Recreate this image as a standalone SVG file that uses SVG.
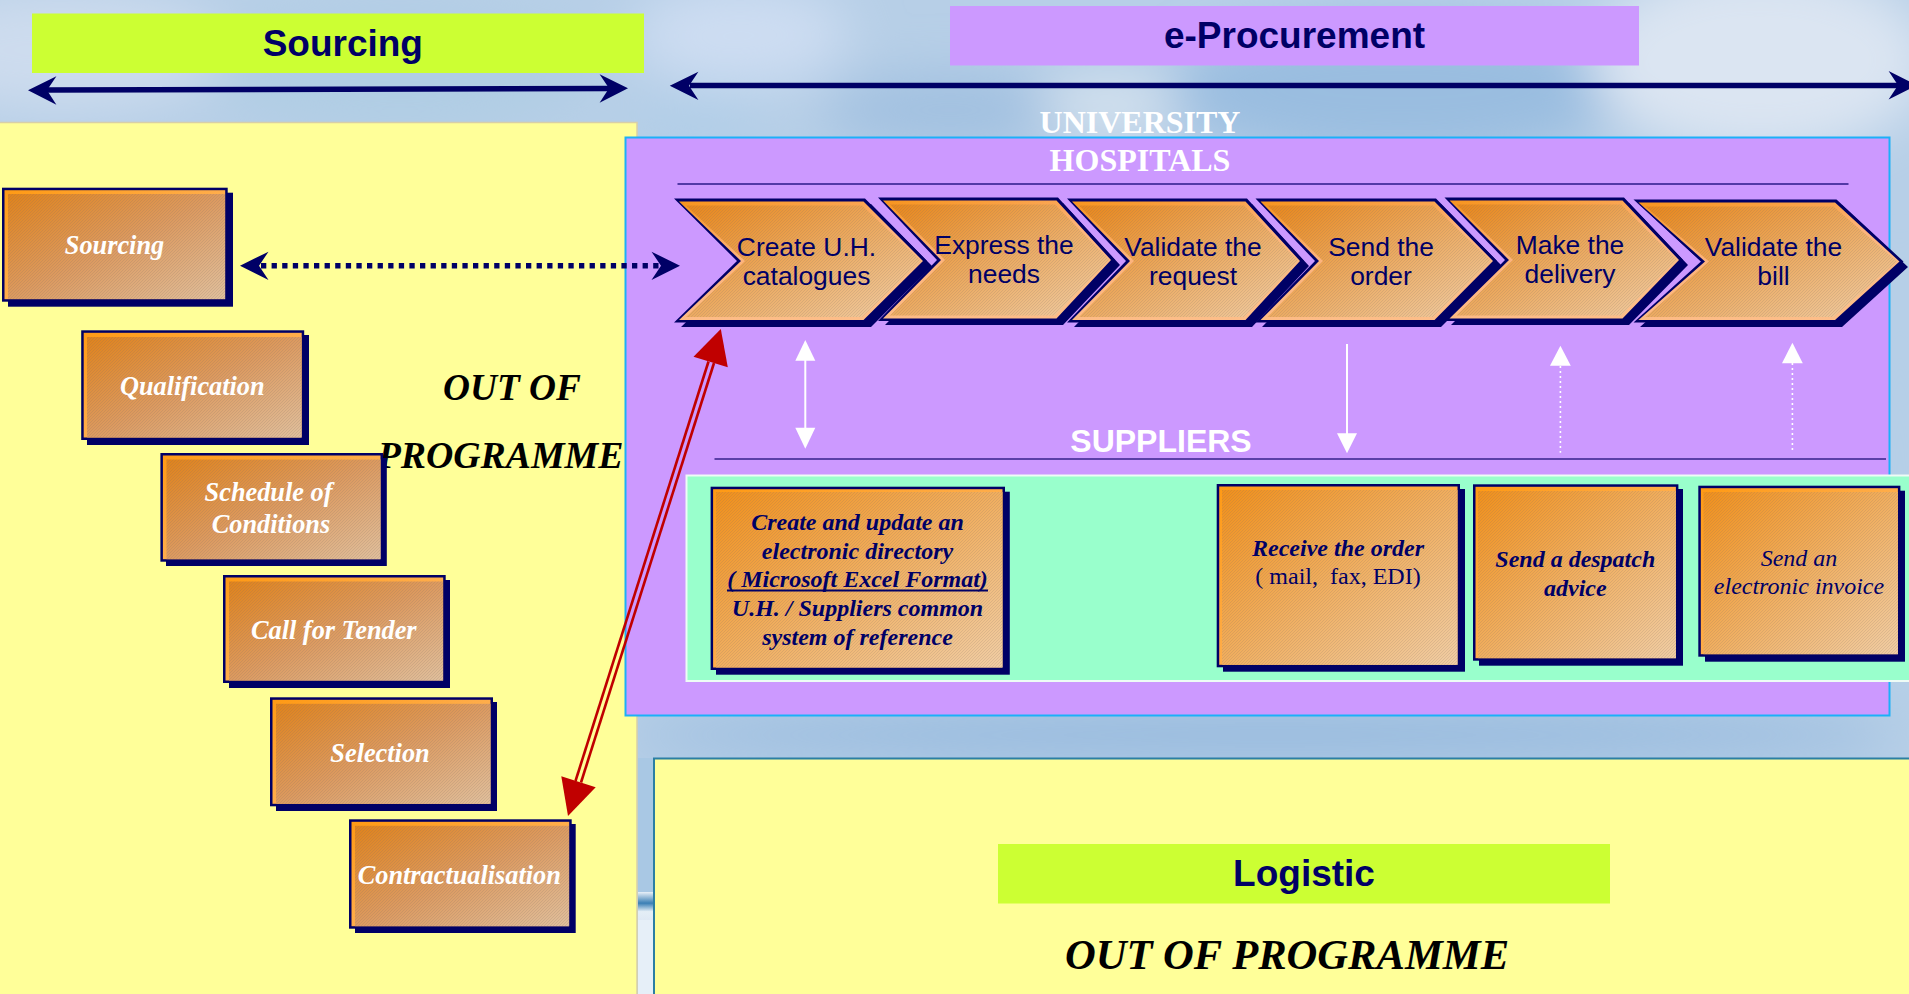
<svg xmlns="http://www.w3.org/2000/svg" width="1909" height="994" viewBox="0 0 1909 994">
<style>
.sans{font-family:"Liberation Sans",Arial,sans-serif}
.serif{font-family:"Liberation Serif","Times New Roman",serif}
text{text-anchor:middle}
.band{font-weight:700;font-size:37px;fill:#000066}
.chev{font-size:26.400px;fill:#000066}
.lnode{font-size:26.300px;font-weight:700;font-style:italic;fill:#fff}
.snode{font-size:24px;font-weight:700;font-style:italic;fill:#000066}
.oop{font-weight:700;font-style:italic;fill:#000}
.head{font-weight:700;fill:#fff}
.sh{fill:#000066}
.fr{fill:#000066}
.hat{fill:url(#hatch)}
.bevel{fill:url(#bev)}
.inL{fill:url(#gL)}
.inS{fill:url(#gS)}
.shaft{fill:none;stroke:#000066;stroke-width:5.500}
.wl{fill:none;stroke:#fff;stroke-width:2}
.wd{fill:none;stroke:#fff;stroke-width:1.600;stroke-dasharray:2 3}
.wh{fill:#fff}
.nh{fill:#000066}
.red{fill:none;stroke:#c00000;stroke-width:2.600}
.rh{fill:#c00000}
</style>
<defs>
<linearGradient id="bev" x1="0" y1="0" x2="1" y2="1"><stop offset="0" stop-color="#ff9a14"/><stop offset="1" stop-color="#ffc080"/></linearGradient>
<linearGradient id="gL" x1="0" y1="0" x2="1" y2="1"><stop offset="0" stop-color="#e0831c"/><stop offset=".5" stop-color="#dc9a60"/><stop offset="1" stop-color="#e0bf9c"/></linearGradient>
<linearGradient id="gS" x1="0" y1="0" x2="1" y2="1"><stop offset="0" stop-color="#f0901c"/><stop offset="1" stop-color="#f0cda4"/></linearGradient>
<linearGradient id="gC" x1="0" y1="0" x2="1" y2="1"><stop offset="0" stop-color="#e8871c"/><stop offset="1" stop-color="#efcda6"/></linearGradient>
<linearGradient id="bevC" x1="0" y1="0" x2="0.4" y2="1"><stop offset="0" stop-color="#f7941d"/><stop offset="0.5" stop-color="#fdb37c"/><stop offset="1" stop-color="#fdbd88"/></linearGradient>
<pattern id="hatch" width="3" height="3" patternUnits="userSpaceOnUse"><path d="M0 3L3 0M-1 1L1 -1M2 4L4 2" stroke="#7a6a60" stroke-opacity=".2" stroke-width=".9"/></pattern>
<filter id="blur" x="-50%" y="-50%" width="200%" height="200%"><feGaussianBlur stdDeviation="26"/></filter>
<linearGradient id="bar" x1="0" y1="0" x2="0" y2="1"><stop offset="0" stop-color="#e8f0f8"/><stop offset=".4" stop-color="#3b7fb5"/><stop offset=".7" stop-color="#e4eef6"/><stop offset="1" stop-color="#dfe9f4"/></linearGradient>
</defs>

<g id="background">
<rect width="1909" height="994" fill="#b7cfe7"/>
<g filter="url(#blur)">
<ellipse cx="60" cy="50" rx="170" ry="60" fill="#cddcee"/>
<ellipse cx="400" cy="70" rx="190" ry="60" fill="#b0cde4"/>
<ellipse cx="740" cy="35" rx="110" ry="50" fill="#cdddf2"/>
<ellipse cx="700" cy="120" rx="70" ry="25" fill="#b0cee8"/>
<ellipse cx="950" cy="110" rx="130" ry="35" fill="#a0c0e0"/>
<ellipse cx="1110" cy="105" rx="70" ry="22" fill="#dbe6f0"/>
<ellipse cx="1400" cy="90" rx="230" ry="70" fill="#9abde0"/>
<ellipse cx="1760" cy="60" rx="170" ry="95" fill="#dbe5f2"/>
<ellipse cx="1270" cy="735" rx="650" ry="22" fill="#8fb5dc"/>
<ellipse cx="1900" cy="500" rx="30" ry="260" fill="#b5cfe7"/>
</g>
</g>

<g id="panels">
<rect id="panel-sourcing" x="-2" y="122.500" width="639" height="880" fill="#ffff99" stroke="#d8cfa8" stroke-width="1.500"/>
<rect x="638" y="758" width="15" height="236" fill="#a9c8e4"/>
<rect x="638" y="892" width="15" height="102" fill="#e6eff8"/>
<rect x="638" y="892" width="15" height="28" fill="url(#bar)"/>
<rect id="panel-logistic" x="654" y="758.500" width="1262" height="245" fill="#ffff99" stroke="#2b7fa3" stroke-width="2"/>
<rect id="panel-eproc" x="625.500" y="137.500" width="1264" height="578" fill="#cc99ff" stroke="#1cb0f8" stroke-width="2"/>
<rect id="panel-suppliers" x="686.500" y="475.500" width="1230" height="205.500" fill="#99ffcc" stroke="#eefcf6" stroke-width="2"/>
<rect id="band-sourcing" x="32" y="13.500" width="612" height="59.500" fill="#ccff33"/>
<rect id="band-eproc" x="950" y="6" width="689" height="59.500" fill="#cc99ff"/>
<rect id="band-logistic" x="998" y="844" width="612" height="59.500" fill="#ccff33"/>
<line x1="677.500" y1="184" x2="1848.500" y2="184" stroke="#2a1a88" stroke-width="1.500"/>
<line x1="714.500" y1="459" x2="1886" y2="459" stroke="#5b3fa8" stroke-width="1.800"/>
</g>

<g id="panel-labels">
<text class="sans band" x="342.800" y="55.500">Sourcing</text>
<text class="sans band" x="1294.500" y="48">e-Procurement</text>
<text class="sans band" x="1304" y="885.500">Logistic</text>
<text class="serif head" x="1140" y="132.500" font-size="32">UNIVERSITY</text>
<text class="serif head" x="1140" y="170.500" font-size="32">HOSPITALS</text>
<text class="sans head" x="1161" y="451.500" font-size="32">SUPPLIERS</text>
<text class="serif oop" x="512" y="399.500" font-size="37.300">OUT OF</text>
<text class="serif oop" x="500.500" y="468" font-size="37.800">PROGRAMME</text>
<text class="serif oop" x="1287" y="969" font-size="42.600">OUT OF PROGRAMME</text>
</g>

<g id="node-sourcing">
<rect class="sh" x="8" y="192.700" width="225" height="114"/><rect class="fr" x="2" y="187.700" width="225.700" height="114"/><rect class="bevel" x="4.500" y="190.200" width="220.700" height="109"/><rect class="inL" x="8" y="194" width="217" height="105"/><rect class="hat" x="8" y="194" width="217" height="105"/>
<text class="serif lnode" x="114.500" y="254">Sourcing</text>
</g>
<g id="node-qualification">
<rect class="sh" x="87" y="335" width="222" height="110"/><rect class="fr" x="81.200" y="330.300" width="223" height="109.700"/><rect class="bevel" x="83.700" y="332.800" width="218" height="104.700"/><rect class="inL" x="87" y="337" width="214.500" height="100.500"/><rect class="hat" x="87" y="337" width="214.500" height="100.500"/>
<text class="serif lnode" x="192.300" y="395">Qualification</text>
</g>
<g id="node-schedule">
<rect class="sh" x="166" y="458" width="220.800" height="108"/><rect class="fr" x="160.400" y="453" width="222.600" height="108.700"/><rect class="bevel" x="162.900" y="455.500" width="217.600" height="103.700"/><rect class="inL" x="166.500" y="459.500" width="214" height="99.700"/><rect class="hat" x="166.500" y="459.500" width="214" height="99.700"/>
<text class="serif lnode" x="268.500" y="501">Schedule of</text>
<text class="serif lnode" x="271" y="533">Conditions</text>
</g>
<g id="node-call">
<rect class="sh" x="229" y="580" width="221" height="108"/><rect class="fr" x="223" y="575" width="222.700" height="108"/><rect class="bevel" x="225.500" y="577.500" width="217.700" height="103"/><rect class="inL" x="229" y="581.500" width="214" height="99"/><rect class="hat" x="229" y="581.500" width="214" height="99"/>
<text class="serif lnode" x="333.800" y="638.800">Call for Tender</text>
</g>
<g id="node-selection">
<rect class="sh" x="276" y="702" width="221" height="109"/><rect class="fr" x="270" y="697.300" width="223" height="109"/><rect class="bevel" x="272.500" y="699.800" width="218" height="104"/><rect class="inL" x="276" y="703.800" width="214.500" height="100"/><rect class="hat" x="276" y="703.800" width="214.500" height="100"/>
<text class="serif lnode" x="380" y="761.700">Selection</text>
</g>
<g id="node-contract">
<rect class="sh" x="355" y="824" width="220.700" height="109"/><rect class="fr" x="349" y="819.300" width="222.700" height="109.400"/><rect class="bevel" x="351.500" y="821.800" width="217.700" height="104.400"/><rect class="inL" x="355" y="825.800" width="214" height="100.400"/><rect class="hat" x="355" y="825.800" width="214" height="100.400"/>
<text class="serif lnode" x="459.300" y="883.800">Contractualisation</text>
</g>

<g id="chevron-1">
<polygon class="sh" points="681,204 871,204 932,266 871,327 681,327 744,266"/>
<polygon class="fr" points="674,198.500 865,198.500 927,261 865,322.500 674,322.500 737,261"/>
<polygon fill="url(#bevC)" points="679,201.500 863.500,201.500 923,261 863.500,320 679,320 741,261"/>
<polygon fill="url(#gC)" points="686,205.500 862,205.500 921,261 862,317 686,317 745,261"/>
<polygon class="hat" points="686,205.500 862,205.500 921,261 862,317 686,317 745,261"/>
<text class="sans chev" x="806.500" y="256">Create U.H.</text><text class="sans chev" x="806.500" y="285">catalogues</text>
</g>
<g id="chevron-2">
<polygon class="sh" points="885,203 1063,203 1120,265 1063,325 885,325 944,265"/>
<polygon class="fr" points="878,197.500 1058,197.500 1115,260 1058,321 878,321 937,260"/>
<polygon fill="url(#bevC)" points="883,200.500 1056.500,200.500 1111,260 1056.500,318.500 883,318.500 941,260"/>
<polygon fill="url(#gC)" points="890,204.500 1055,204.500 1109,260 1055,315.500 890,315.500 945,260"/>
<polygon class="hat" points="890,204.500 1055,204.500 1109,260 1055,315.500 890,315.500 945,260"/>
<text class="sans chev" x="1004" y="254">Express the</text><text class="sans chev" x="1004" y="283">needs</text>
</g>
<g id="chevron-3">
<polygon class="sh" points="1074,204 1252,204 1309,266 1252,327 1074,327 1133,266"/>
<polygon class="fr" points="1067,198.500 1247,198.500 1304,261 1247,322.500 1067,322.500 1126,261"/>
<polygon fill="url(#bevC)" points="1072,201.500 1245.500,201.500 1300,261 1245.500,320 1072,320 1130,261"/>
<polygon fill="url(#gC)" points="1079,205.500 1244,205.500 1298,261 1244,317 1079,317 1134,261"/>
<polygon class="hat" points="1079,205.500 1244,205.500 1298,261 1244,317 1079,317 1134,261"/>
<text class="sans chev" x="1193" y="256">Validate the</text><text class="sans chev" x="1193" y="285">request</text>
</g>
<g id="chevron-4">
<polygon class="sh" points="1262,204 1441,204 1502,266 1441,327 1262,327 1322,266"/>
<polygon class="fr" points="1255.500,198.500 1436,198.500 1497,261 1436,322.500 1255.500,322.500 1315,261"/>
<polygon fill="url(#bevC)" points="1260.500,201.500 1434.500,201.500 1493,261 1434.500,320 1260.500,320 1319,261"/>
<polygon fill="url(#gC)" points="1267.500,205.500 1433,205.500 1491,261 1433,317 1267.500,317 1323,261"/>
<polygon class="hat" points="1267.500,205.500 1433,205.500 1491,261 1433,317 1267.500,317 1323,261"/>
<text class="sans chev" x="1381" y="256">Send the</text><text class="sans chev" x="1381" y="285">order</text>
</g>
<g id="chevron-5">
<polygon class="sh" points="1451,203 1629,203 1688,265 1629,325 1451,325 1511,265"/>
<polygon class="fr" points="1444.500,197.500 1624,197.500 1683,260 1624,321 1444.500,321 1505,260"/>
<polygon fill="url(#bevC)" points="1449.500,200.500 1622.500,200.500 1679,260 1622.500,318.500 1449.500,318.500 1509,260"/>
<polygon fill="url(#gC)" points="1456.500,204.500 1621,204.500 1677,260 1621,315.500 1456.500,315.500 1513,260"/>
<polygon class="hat" points="1456.500,204.500 1621,204.500 1677,260 1621,315.500 1456.500,315.500 1513,260"/>
<text class="sans chev" x="1570" y="254">Make the</text><text class="sans chev" x="1570" y="283">delivery</text>
</g>
<g id="chevron-6">
<polygon class="sh" points="1640,205 1842,205 1908,267 1842,327 1640,327 1707,267"/>
<polygon class="fr" points="1633.500,199.500 1836.500,199.500 1903.500,261.500 1836.500,322.500 1633.500,322.500 1701,261.500"/>
<polygon fill="url(#bevC)" points="1638.500,202.500 1835,202.500 1899.500,261.500 1835,320 1638.500,320 1705,261.500"/>
<polygon fill="url(#gC)" points="1645.500,206.500 1833.500,206.500 1897,261.500 1833.500,317 1645.500,317 1709,261.500"/>
<polygon class="hat" points="1645.500,206.500 1833.500,206.500 1897,261.500 1833.500,317 1645.500,317 1709,261.500"/>
<text class="sans chev" x="1773.500" y="256">Validate the</text><text class="sans chev" x="1773.500" y="285">bill</text>
</g>

<g id="node-directory">
<rect class="sh" x="716" y="491.700" width="293.800" height="183"/><rect class="fr" x="710.600" y="486.700" width="294.400" height="183.300"/><rect class="bevel" x="713.100" y="489.200" width="289.400" height="178.300"/><rect class="inS" x="716" y="492" width="286.500" height="175.500"/><rect class="hat" x="716" y="492" width="286.500" height="175.500"/>
<text class="serif snode" x="857.500" y="530">Create and update an</text>
<text class="serif snode" x="857.500" y="558.700">electronic directory</text>
<text class="serif snode" x="857.500" y="587.300">( Microsoft Excel Format)</text>
<rect class="sh" x="727" y="589.500" width="261" height="2"/>
<text class="serif snode" x="857.500" y="616">U.H. / Suppliers common</text>
<text class="serif snode" x="857.500" y="645">system of reference</text>
</g>
<g id="node-receive">
<rect class="sh" x="1223" y="489" width="242" height="182.700"/><rect class="fr" x="1216.700" y="484" width="243.300" height="183.300"/><rect class="bevel" x="1219.200" y="486.500" width="238.300" height="178.300"/><rect class="inS" x="1222" y="490" width="235.500" height="174.800"/><rect class="hat" x="1222" y="490" width="235.500" height="174.800"/>
<text class="serif snode" x="1338" y="556">Receive the order</text>
<text class="serif" x="1338" y="584" font-size="24" fill="#000066">( mail,&#160; fax, EDI)</text>
</g>
<g id="node-despatch">
<rect class="sh" x="1479" y="489" width="204" height="176.700"/><rect class="fr" x="1473" y="484.300" width="205.400" height="176.400"/><rect class="bevel" x="1475.500" y="486.800" width="200.400" height="171.400"/><rect class="inS" x="1478" y="491" width="197.900" height="167.200"/><rect class="hat" x="1478" y="491" width="197.900" height="167.200"/>
<text class="serif snode" x="1575.300" y="566.700">Send a despatch</text>
<text class="serif snode" x="1575.300" y="596">advice</text>
</g>
<g id="node-invoice">
<rect class="sh" x="1705" y="490.700" width="200" height="171"/><rect class="fr" x="1698.300" y="485.700" width="202.100" height="171"/><rect class="bevel" x="1700.800" y="488.200" width="197.100" height="166"/><rect class="inS" x="1703.500" y="492" width="194.400" height="162.200"/><rect class="hat" x="1703.500" y="492" width="194.400" height="162.200"/>
<text class="serif" x="1799" y="566" font-size="24" font-style="italic" fill="#000066">Send an</text>
<text class="serif" x="1799" y="594" font-size="24" font-style="italic" fill="#000066">electronic invoice</text>
</g>

<g id="connectors">
<g id="c-sourcing">
<line class="shaft" x1="45" y1="90" x2="610" y2="88.500"/>
<polygon class="nh" points="28,90.300 56.400,76.300 47,90.300 56.400,104.700"/>
<polygon class="nh" points="628,88.300 599.600,74.300 609,88.300 599.600,102.700"/>
</g>
<g id="c-eproc">
<line class="shaft" x1="690" y1="85.500" x2="1900" y2="85.500"/>
<polygon class="nh" points="669.800,85.700 698.400,71.700 689,85.700 698.400,100"/>
<polygon class="nh" points="1917,85.300 1888.600,71 1898,85.300 1888.600,99.600"/>
</g>
<g id="c-dotted">
<line x1="261" y1="265.700" x2="660" y2="265.700" stroke="#000066" stroke-width="5.500" stroke-dasharray="5.300 5.300"/>
<polygon class="nh" points="240,265.700 268.500,251.700 259,265.700 268.500,280"/>
<polygon class="nh" points="680,265.700 651.500,251.700 661,265.700 651.500,280"/>
</g>
<g id="c-red">
<line class="red" x1="708.500" y1="361.500" x2="575.500" y2="781"/>
<line class="red" x1="714" y1="363" x2="581" y2="782.500"/>
<polygon class="rh" points="720.800,329 693.500,356.700 727.800,367.300"/>
<polygon class="rh" points="568,816 561.300,776.300 595.700,787.300"/>
</g>
<g id="c-w1">
<line class="wl" x1="805.300" y1="358" x2="805.300" y2="430"/>
<polygon class="wh" points="805.300,340 795.300,360.700 815.300,360.700"/>
<polygon class="wh" points="805.300,448.700 795.300,427.700 815.300,427.700"/>
</g>
<g id="c-w2">
<line class="wl" x1="1347" y1="344" x2="1347" y2="436"/>
<polygon class="wh" points="1347,453.300 1337,433.300 1357,433.300"/>
</g>
<g id="c-w3">
<line class="wd" x1="1560.400" y1="366" x2="1560.400" y2="452.700"/>
<polygon class="wh" points="1560.400,345.700 1550,365.700 1570.800,365.700"/>
</g>
<g id="c-w4">
<line class="wd" x1="1792.400" y1="363" x2="1792.400" y2="450"/>
<polygon class="wh" points="1792.400,342.700 1782,363.300 1802.800,363.300"/>
</g>
</g>
</svg>
